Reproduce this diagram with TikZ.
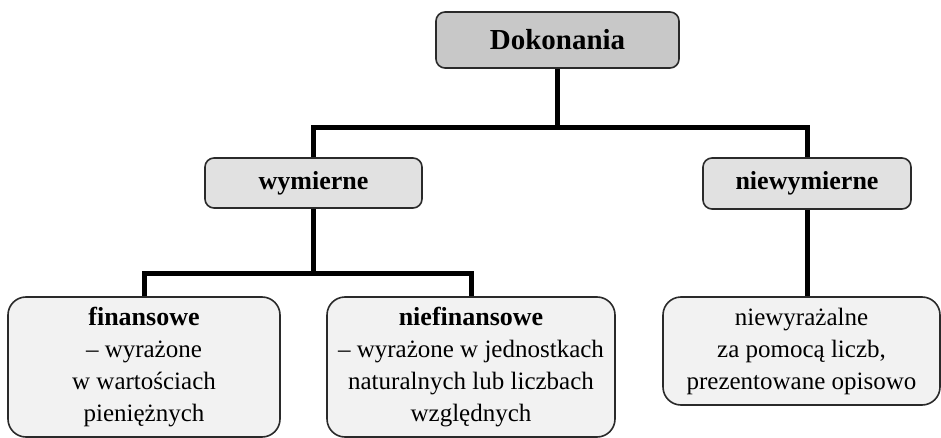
\documentclass[tikz,border=0pt]{standalone}
\usepackage{fontspec}
\setmainfont{Liberation Serif}
\definecolor{topfill}{HTML}{C8C8C8}
\definecolor{midfill}{HTML}{E1E1E1}
\definecolor{lowfill}{HTML}{F2F2F2}
\definecolor{edge}{HTML}{2A2A2A}
\begin{document}
\begin{tikzpicture}[x=1pt,y=-1pt,
  box/.style={draw=edge, line width=1.6pt, align=center, inner sep=0pt},
  topbox/.style={box, fill=topfill, rounded corners=9pt, font=\fontsize{29}{34}\selectfont\bfseries},
  midbox/.style={box, fill=midfill, rounded corners=9pt, font=\fontsize{26}{31}\selectfont\bfseries},
  lowbox/.style={box, fill=lowfill, rounded corners=18pt, font=\fontsize{25}{32}\selectfont},
  link/.style={line width=5pt, black, line join=miter}]
\useasboundingbox (0,0) rectangle (941,438);
\node[topbox, minimum width=243pt, minimum height=56pt] (dok) at (557.5,40) {Dokonania};
\node[midbox, minimum width=217pt, minimum height=50pt] (wym) at (313.5,183) {wymierne};
\node[midbox, minimum width=208pt, minimum height=51pt] (niew) at (807,183.5) {niewymierne};
\node[lowbox, minimum width=272pt, minimum height=140pt] (fin) at (144,367)
  {{\fontsize{26}{32}\selectfont\bfseries finansowe}\\– wyrażone\\w wartościach\\pieniężnych};
\node[lowbox, minimum width=288pt, minimum height=140pt] (nief) at (471,367)
  {{\fontsize{26}{32}\selectfont\bfseries niefinansowe}\\– wyrażone w jednostkach\\naturalnych lub liczbach\\względnych};
\node[lowbox, minimum width=277pt, minimum height=108pt] (niewyr) at (801.5,351)
  {niewyrażalne\\za pomocą liczb,\\prezentowane opisowo};
\coordinate (j1) at (557.5,128);
\coordinate (j2) at (313.5,273);
\draw[link] (dok.south) -- (j1);
\draw[link] (wym.north) |- (j1) -| (niew.north);
\draw[link] (wym.south) -- (j2);
\draw[link] (fin.north) |- (j2) -| (nief.north);
\draw[link] (niew.south) -- (niew.south |- niewyr.north);
\end{tikzpicture}
\end{document}
